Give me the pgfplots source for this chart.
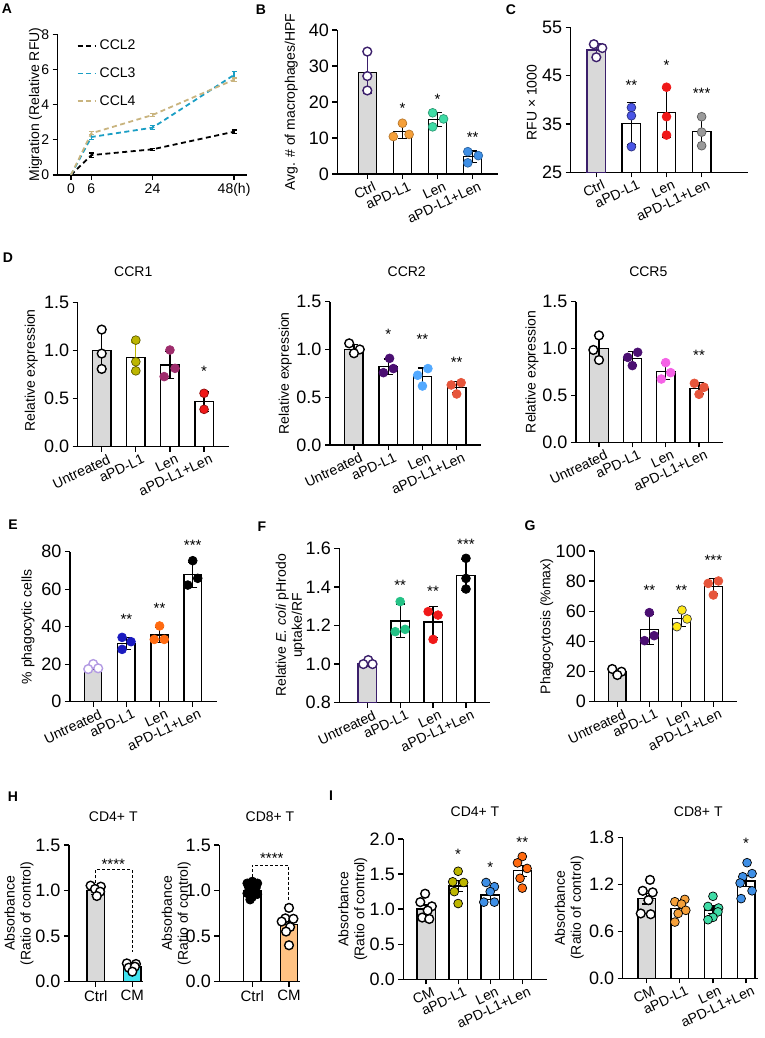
\documentclass[border=0pt]{standalone}
\usepackage{pgfplots}
\pgfplotsset{compat=1.18}
\usepackage{fontspec}
\setmainfont{Liberation Sans}
\definecolor{gfill}{HTML}{D9D9D9}
\definecolor{cpur}{HTML}{3B1F6B}
\definecolor{cor}{HTML}{F5A03A}
\definecolor{cgrn}{HTML}{3FDCA6}
\definecolor{cblu}{HTML}{3E8FE6}
\definecolor{cblu2}{HTML}{4A55E6}
\definecolor{cred}{HTML}{F01818}
\definecolor{cgry}{HTML}{9A9A9A}
\definecolor{coli}{HTML}{BDB600}
\definecolor{cmag}{HTML}{9E2C6C}
\definecolor{cdpur}{HTML}{4B0F72}
\definecolor{clblu}{HTML}{52A9FF}
\definecolor{ccor}{HTML}{E6553B}
\definecolor{cpink}{HTML}{F562E6}
\definecolor{clav}{HTML}{B39BE3}
\definecolor{cdblu}{HTML}{1A1ABF}
\definecolor{cora}{HTML}{FF6A10}
\definecolor{cyel}{HTML}{FFE817}
\definecolor{cgrn2}{HTML}{24C286}
\definecolor{ccyan}{HTML}{40E3F0}
\definecolor{clor}{HTML}{FFC283}
\definecolor{cteal}{HTML}{1A9EC4}
\definecolor{ctan}{HTML}{C9B47F}
\newcommand{\tk}{\fontsize{18}{18}\selectfont}
\newcommand{\lb}{\fontsize{14}{16}\selectfont}
\newcommand{\ct}{\fontsize{14}{14}\selectfont}
\newcommand{\st}{\fontsize{15}{15}\selectfont}
\newcommand{\pl}{\fontsize{14}{14}\selectfont\bfseries}
\pgfplotsset{
 gp/.style={scale only axis, anchor=south west,
  axis lines=left,
  axis line style={-, line width=1.3pt, black},
  tick style={line width=1.3pt, black},
  tick align=outside, major tick length=5pt,
  clip mode=individual,
  tick label style={font=\tk},
  /pgf/number format/assume math mode=true,
  label style={font=\lb},
  ylabel style={anchor=center, align=center}},
 cat/.style={xtick={0,1,2,3}, xticklabels={#1}, xticklabel style={font=\ct, rotate=25, anchor=north east, inner sep=1pt, xshift=5pt, yshift=-3pt}},
 dec1/.style={yticklabel style={/pgf/number format/fixed, /pgf/number format/fixed zerofill, /pgf/number format/precision=1}},
 barst/.style={ybar, bar shift=0pt, mark=none, line width=1.3pt,
  error bars/y dir=both, error bars/y explicit},
 pts/.style={only marks, mark=*, mark size=4.4pt},
}
% #1 x, #2 mean, #3 err, #4 fill, #5 draw, #6 errcolor
\newcommand{\gb}[6]{\addplot[barst, fill=#4, draw=#5,
  error bars/error bar style={line width=1.2pt, #6, solid},
  error bars/error mark options={rotate=90, mark size=4.5pt, line width=1.2pt, #6, solid}]
  coordinates {(#1,#2) +- (0,#3)};}
\newcommand{\pt}[3]{\addplot[pts, mark options={fill=#1, draw=#2, line width=0.7pt}] coordinates {#3};}
\newcommand{\opt}[2]{\addplot[pts, mark options={fill=white, draw=#1, line width=1.4pt}] coordinates {#2};}
\newcommand{\sg}[3]{\node[font=\st, inner sep=0pt, yshift=-3pt] at (axis cs:#1,#2) {#3};}
\begin{document}
\begin{tikzpicture}[x=1pt,y=1pt]
\path[use as bounding box] (0pt,0pt) rectangle (764pt,1038pt);
% panel letters
\node[font=\pl] at (7pt,1029pt) {A};
\node[font=\pl] at (261pt,1028pt) {B};
\node[font=\pl] at (511pt,1028pt) {C};
\node[font=\pl] at (8pt,780pt) {D};
\node[font=\pl] at (13pt,513pt) {E};
\node[font=\pl] at (262pt,511pt) {F};
\node[font=\pl] at (530pt,512pt) {G};
\node[font=\pl] at (13pt,241pt) {H};
\node[font=\pl] at (331pt,242pt) {I};
% titles
\node[font=\lb] at (133.3pt,766.3pt) {CCR1};
\node[font=\lb] at (406.7pt,766.3pt) {CCR2};
\node[font=\lb] at (648.3pt,766.3pt) {CCR5};
\node[font=\lb] at (113.3pt,221.3pt) {CD4+ T};
\node[font=\lb] at (270pt,221.3pt) {CD8+ T};
\node[font=\lb] at (475pt,226.3pt) {CD4+ T};
\node[font=\lb] at (698.3pt,226.3pt) {CD8+ T};

% ---------------- A
\begin{axis}[gp, at={(57.7pt,863pt)}, width=189.3pt, height=140.7pt,
 xmin=-3.9, xmax=51.8, ymin=0, ymax=8, xtick={0,6,24,48}, xticklabels={0,6,24,48(h)}, ytick={0,2,4,6,8},
 tick label style={font=\fontsize{14}{14}\selectfont},
 ylabel={Migration (Relative RFU)}, ylabel style={at={(axis description cs:-0.117,0.5)}},
 legend style={draw=none, fill=none, at={(axis description cs:0.1,0.975)}, anchor=north west,
   font=\fontsize{14}{14}\selectfont, row sep=12.5pt, inner sep=0pt, nodes={inner xsep=4pt}},
 legend cell align=left]
\addplot[black, mark=none, line width=1.8pt, dash pattern=on 5pt off 3.5pt,
 error bars/y dir=both, error bars/y explicit,
 error bars/error bar style={solid, line width=1.2pt},
 error bars/error mark options={solid, rotate=90, mark size=2.5pt, line width=1.2pt}]
 coordinates {(0,0) (6,1.13) +- (0,0.12) (24,1.46) +- (0,0.05) (48,2.46) +- (0,0.1)};
\addlegendentry{CCL2}
\addplot[cteal, mark=none, line width=1.8pt, dash pattern=on 5pt off 3.5pt,
 error bars/y dir=both, error bars/y explicit,
 error bars/error bar style={solid, line width=1.2pt},
 error bars/error mark options={solid, rotate=90, mark size=2.5pt, line width=1.2pt}]
 coordinates {(0,0) (6,2.16) +- (0,0.12) (24,2.69) +- (0,0.12) (48,5.69) +- (0,0.2)};
\addlegendentry{CCL3}
\addplot[ctan, mark=none, line width=1.8pt, dash pattern=on 5pt off 3.5pt,
 error bars/y dir=both, error bars/y explicit,
 error bars/error bar style={solid, line width=1.2pt},
 error bars/error mark options={solid, rotate=90, mark size=2.5pt, line width=1.2pt}]
 coordinates {(0,0) (6,2.37) +- (0,0.08) (24,3.41) +- (0,0.1) (48,5.42) +- (0,0.1)};
\addlegendentry{CCL4}
\end{axis}

% ---------------- B
\begin{axis}[gp, at={(337.3pt,864pt)}, width=160.7pt, height=144pt,
 xmin=-0.854, xmax=3.72, ymin=0, ymax=40, ytick={0,10,20,30,40}, bar width=0.52,
 cat={Ctrl,aPD-L1,Len,aPD-L1+Len},
 ylabel={Avg. \# of macrophages/HPF}, ylabel style={at={(axis description cs:-0.286,0.5)}}]
\gb{0}{28.1}{5.6}{gfill}{black}{cpur}
\gb{1}{11.8}{1.9}{white}{black}{black}
\gb{2}{15.1}{2.0}{white}{black}{black}
\gb{3}{4.8}{1.6}{white}{black}{black}
\opt{cpur}{(0,34) (0,27.2) (0,23.2)}
\pt{cor}{cor!75!black}{(0.74,10.4) (1,14.1) (1.19,11.0)}
\pt{cgrn}{cgrn!70!black}{(1.86,17.0) (2.17,15.3) (1.86,13.1)}
\pt{cblu}{cblu!70!black}{(2.86,6.2) (3.16,5.1) (2.86,3.1)}
\sg{1}{19.2}{*}\sg{2}{21.5}{*}\sg{3}{11}{**}
\end{axis}

% ---------------- C
\begin{axis}[gp, at={(570.7pt,865.7pt)}, width=177.3pt, height=145pt,
 xmin=-0.729, xmax=4.32, ymin=25, ymax=55, ytick={25,35,45,55}, bar width=0.53,
 cat={Ctrl,aPD-L1,Len,aPD-L1+Len},
 ylabel={RFU × 1000}, ylabel style={at={(axis description cs:-0.22,0.48)}}]
\gb{0}{50.3}{1.4}{gfill}{cpur}{cpur}
\gb{1}{35.1}{4.3}{white}{black}{black}
\gb{2}{37.3}{5.0}{white}{black}{black}
\gb{3}{33.4}{3.0}{white}{black}{black}
\opt{cpur}{(-0.07,51.5) (0.17,50.7) (0,48.8)}
\pt{cblu2}{cblu2!55!black}{(1,38.4) (1,36.7) (1,30.3)}
\pt{cred}{cred}{(2,42.6) (2,36.5) (2,32.7)}
\pt{cgry}{cgry!60!black}{(3,36.5) (3,33.3) (3,30.5)}
\sg{1}{43.7}{**}\sg{2}{47.7}{*}\sg{3}{41.9}{***}
\end{axis}

% ---------------- D CCR1
\begin{axis}[gp, dec1, at={(77.7pt,591.3pt)}, width=151.6pt, height=144pt,
 xmin=-0.704, xmax=3.74, ymin=0, ymax=1.5, ytick={0,0.5,1,1.5}, bar width=0.537,
 cat={Untreated,aPD-L1,Len,aPD-L1+Len},
 ylabel={Relative expression}, ylabel style={at={(axis description cs:-0.306,0.53)}}]
\gb{0}{1.0}{0.21}{gfill}{black}{black}
\gb{1}{0.93}{0.16}{white}{black}{coli}
\gb{2}{0.85}{0.14}{white}{black}{black}
\gb{3}{0.47}{0.1}{white}{black}{black}
\opt{black}{(0,1.22) (0,0.97) (0,0.81)}
\pt{coli}{coli!50!black}{(1,1.11) (1,0.885) (1,0.79)}
\pt{cmag}{cmag}{(2,1.007) (2.15,0.816) (1.83,0.73)}
\pt{cred}{cred!60!black}{(3,0.556) (3,0.389)}
\sg{3}{0.817}{*}
\end{axis}

% ---------------- D CCR2
\begin{axis}[gp, dec1, at={(330pt,593pt)}, width=151pt, height=143.3pt,
 xmin=-0.70, xmax=3.71, ymin=0, ymax=1.5, ytick={0,0.5,1,1.5}, bar width=0.535,
 cat={Untreated,aPD-L1,Len,aPD-L1+Len},
 ylabel={Relative expression}, ylabel style={at={(axis description cs:-0.296,0.5)}}]
\gb{0}{1.0}{0.05}{gfill}{black}{black}
\gb{1}{0.82}{0.08}{white}{black}{black}
\gb{2}{0.716}{0.09}{white}{black}{black}
\gb{3}{0.605}{0.06}{white}{black}{black}
\opt{black}{(-0.14,1.064) (0.17,1.0) (0,0.96)}
\pt{cdpur}{cdpur}{(1.04,0.907) (1.15,0.80) (0.86,0.757)}
\pt{clblu}{clblu}{(2.16,0.80) (1.86,0.73) (2,0.617)}
\pt{ccor}{ccor}{(3.13,0.652) (2.84,0.628) (3,0.534)}
\sg{1}{1.193}{*}\sg{2}{1.134}{**}\sg{3}{0.896}{**}
\end{axis}

% ---------------- D CCR5
\begin{axis}[gp, dec1, at={(576pt,595.7pt)}, width=146.7pt, height=140.6pt,
 xmin=-0.69, xmax=3.71, ymin=0, ymax=1.5, ytick={0,0.5,1,1.5}, bar width=0.55,
 cat={Untreated,aPD-L1,Len,aPD-L1+Len},
 ylabel={Relative expression}, ylabel style={at={(axis description cs:-0.30,0.5)}}]
\gb{0}{1.0}{0.13}{gfill}{black}{black}
\gb{1}{0.895}{0.07}{white}{black}{black}
\gb{2}{0.756}{0.09}{white}{black}{black}
\gb{3}{0.576}{0.06}{white}{black}{black}
\opt{black}{(0,1.14) (-0.17,0.985) (0,0.878)}
\pt{cdpur}{cdpur}{(1.16,0.96) (0.86,0.906) (1,0.818)}
\pt{cpink}{cpink}{(2,0.85) (2.15,0.743) (1.87,0.675)}
\pt{ccor}{ccor}{(2.86,0.629) (3.15,0.587) (3,0.512)}
\sg{3}{0.956}{**}
\end{axis}

% ---------------- E
\begin{axis}[gp, at={(70pt,336.3pt)}, width=147.3pt, height=150pt,
 xmin=-0.70, xmax=3.74, ymin=0, ymax=80, ytick={0,20,40,60,80}, bar width=0.52,
 cat={Untreated,aPD-L1,Len,aPD-L1+Len},
 ylabel={\% phagocytic cells}, ylabel style={at={(axis description cs:-0.285,0.5)}}]
\gb{0}{17}{0}{gfill}{black}{black}
\gb{1}{31.1}{3.2}{white}{black}{black}
\gb{2}{35.6}{4}{white}{black}{black}
\gb{3}{67.7}{6.7}{white}{black}{black}
\opt{clav}{(0,20.1) (-0.15,17.4) (0.15,17.8)}
\pt{cdblu}{cdblu}{(0.87,34.3) (1.14,32.0) (0.87,27.9)}
\pt{cora}{cora}{(2,40.4) (1.84,33.2) (2.14,33.2)}
\pt{black}{black}{(3,75.2) (3.15,65.8) (2.85,62.2)}
\sg{1}{45.3}{**}\sg{2}{51.2}{**}\sg{3}{84.8}{***}
\end{axis}

% ---------------- F
\begin{axis}[gp, dec1, at={(339.3pt,335.3pt)}, width=150.7pt, height=154.4pt,
 xmin=-0.85, xmax=3.73, ymin=0.8, ymax=1.6, ytick={0.8,1.0,1.2,1.4,1.6}, bar width=0.556,
 cat={Untreated,aPD-L1,Len,aPD-L1+Len},
 ylabel={Relative \textit{E. coli} pHrodo\\uptake/RF}, ylabel style={at={(axis description cs:-0.326,0.5)}}]
\gb{0}{1.0}{0.01}{gfill}{cpur}{cpur}
\gb{1}{1.224}{0.087}{white}{black}{black}
\gb{2}{1.218}{0.08}{white}{black}{black}
\gb{3}{1.46}{0.08}{white}{black}{black}
\opt{cpur}{(0.03,1.021) (-0.12,1.0) (0.16,1.0)}
\pt{cgrn2}{cgrn2}{(1,1.324) (1.15,1.18) (0.85,1.168)}
\pt{cred}{cred}{(1.85,1.272) (2.15,1.254) (2,1.128)}
\pt{black}{black}{(3,1.548) (3,1.444) (3,1.389)}
\sg{1}{1.422}{**}\sg{2}{1.393}{**}\sg{3}{1.635}{***}
\end{axis}

% ---------------- G
\begin{axis}[gp, at={(594.3pt,336.3pt)}, width=142.4pt, height=150.7pt,
 xmin=-0.72, xmax=3.73, ymin=0, ymax=100, ytick={0,20,40,60,80,100}, bar width=0.55,
 cat={Untreated,aPD-L1,Len,aPD-L1+Len},
 ylabel={Phagocytosis (\%max)}, ylabel style={at={(axis description cs:-0.334,0.5)}}]
\gb{0}{19.8}{0}{gfill}{black}{black}
\gb{1}{47.8}{9.9}{white}{black}{black}
\gb{2}{55.2}{5.5}{white}{black}{black}
\gb{3}{76.5}{5}{white}{black}{black}
\opt{black}{(-0.16,21.7) (0.13,19.9) (0,17.7)}
\pt{cdpur}{cdpur}{(1,59.1) (1.15,43.8) (0.85,40.5)}
\pt{cyel}{black!75}{(2.02,60.8) (2.18,54.9) (1.86,49.8)}
\pt{ccor}{ccor}{(3.16,80.1) (2.84,78.5) (3,70.8)}
\sg{1}{75.7}{**}\sg{2}{75.7}{**}\sg{3}{95.8}{***}
\end{axis}

% ---------------- H CD4
\begin{axis}[gp, dec1, at={(69pt,56.3pt)}, width=74.3pt, height=136.7pt,
 xmin=-0.73, xmax=1.30, ymin=0, ymax=1.5, ytick={0,0.5,1,1.5}, bar width=0.48,
 xtick={0,1}, xticklabels={Ctrl,CM}, xticklabel style={font=\fontsize{15}{15}\selectfont},
 ylabel={Absorbance\\(Ratio of control)}, ylabel style={at={(axis description cs:-0.673,0.5)}}]
\gb{0}{1.0}{0.045}{gfill}{black}{black}
\gb{1}{0.165}{0.04}{ccyan}{black}{black}
\opt{black}{(-0.14,1.054) (0.14,1.043) (-0.02,1.017) (0.12,0.988) (0.03,0.94)}
\opt{black}{(0.85,0.201) (1.1,0.194) (0.9,0.154) (1.07,0.165) (1,0.11)}
\addplot[black, mark=none, line width=1pt, dash pattern=on 3pt off 2pt] coordinates {(0,1.08) (0,1.226) (1,1.226) (1,0.33)};
\sg{0.48}{1.325}{****}
\end{axis}

% ---------------- H CD8
\begin{axis}[gp, dec1, at={(219.3pt,56.3pt)}, width=80.7pt, height=136.7pt,
 xmin=-0.9, xmax=1.30, ymin=0, ymax=1.5, ytick={0,0.5,1,1.5}, bar width=0.48,
 xtick={0,1}, xticklabels={Ctrl,CM}, xticklabel style={font=\fontsize{15}{15}\selectfont},
 ylabel={Absorbance\\(Ratio of control)}, ylabel style={at={(axis description cs:-0.534,0.5)}}]
\gb{0}{1.0}{0.03}{white}{black}{black}
\gb{1}{0.63}{0.05}{clor}{black}{black}
\pt{black}{black}{(0,1.1) (-0.14,1.08) (0.14,1.08) (-0.1,1.04) (0.1,1.03) (0,1.0) (-0.14,0.97) (0.14,0.96) (0,0.93) (-0.06,0.9)}
\opt{black}{(1,0.81) (0.9,0.695) (1.12,0.69) (0.8,0.66) (1.03,0.6) (0.92,0.55) (1,0.40)}
\addplot[black, mark=none, line width=1pt, dash pattern=on 3pt off 2pt] coordinates {(0,1.15) (0,1.28) (1,1.28) (1,0.88)};
\sg{0.53}{1.39}{****}
\end{axis}

% ---------------- I CD4
\begin{axis}[gp, dec1, at={(403.3pt,58.7pt)}, width=143.7pt, height=140.3pt,
 xmin=-0.71, xmax=3.77, ymin=0, ymax=2, ytick={0,0.5,1,1.5,2}, bar width=0.57,
 cat={CM,aPD-L1,Len,aPD-L1+Len},
 ylabel={Absorbance\\(Ratio of control)}, ylabel style={at={(axis description cs:-0.352,0.5)}}]
\gb{0}{1.0}{0.06}{gfill}{black}{black}
\gb{1}{1.33}{0.08}{white}{black}{black}
\gb{2}{1.2}{0.06}{white}{black}{black}
\gb{3}{1.546}{0.08}{white}{black}{black}
\opt{black}{(-0.03,1.22) (-0.18,1.1) (0.18,1.04) (0.05,0.98) (-0.12,0.88) (0.1,0.86)}
\pt{coli}{black}{(1,1.54) (0.83,1.39) (1.17,1.38) (0.88,1.25) (1,1.08)}
\pt{cblu}{black}{(1.87,1.38) (2.13,1.32) (2,1.25) (1.8,1.1) (2.13,1.1)}
\pt{cora}{black}{(3,1.75) (2.85,1.66) (3.15,1.58) (2.93,1.44) (3,1.30)}
\sg{1}{1.83}{*}\sg{2}{1.64}{*}\sg{3}{2.0}{**}
\end{axis}

% ---------------- I CD8
\begin{axis}[gp, dec1, at={(622.7pt,59.7pt)}, width=135.3pt, height=140.6pt,
 xmin=-0.725, xmax=3.36, ymin=0, ymax=1.8, ytick={0,0.6,1.2,1.8}, bar width=0.53,
 cat={CM,aPD-L1,Len,aPD-L1+Len},
 ylabel={Absorbance\\(Ratio of control)}, ylabel style={at={(axis description cs:-0.395,0.5)}}]
\gb{0}{1.02}{0.07}{gfill}{black}{black}
\gb{1}{0.893}{0.05}{white}{black}{black}
\gb{2}{0.875}{0.05}{white}{black}{black}
\gb{3}{1.247}{0.07}{white}{black}{black}
\opt{black}{(0.1,1.26) (-0.12,1.12) (0.18,1.1) (0.05,1.0) (-0.18,0.83) (0.12,0.82)}
\pt{cor}{black}{(1.15,1.01) (0.85,0.98) (1.05,0.95) (1.18,0.87) (0.95,0.83) (0.85,0.72)}
\pt{cgrn}{black}{(2,1.05) (1.85,0.92) (2.17,0.9) (2.15,0.85) (2,0.78) (1.85,0.75)}
\pt{cblu}{black}{(3.03,1.48) (3.18,1.34) (2.9,1.3) (2.82,1.22) (3.18,1.12) (2.85,1.02)}
\sg{3}{1.77}{*}
\end{axis}
\end{tikzpicture}
\end{document}
